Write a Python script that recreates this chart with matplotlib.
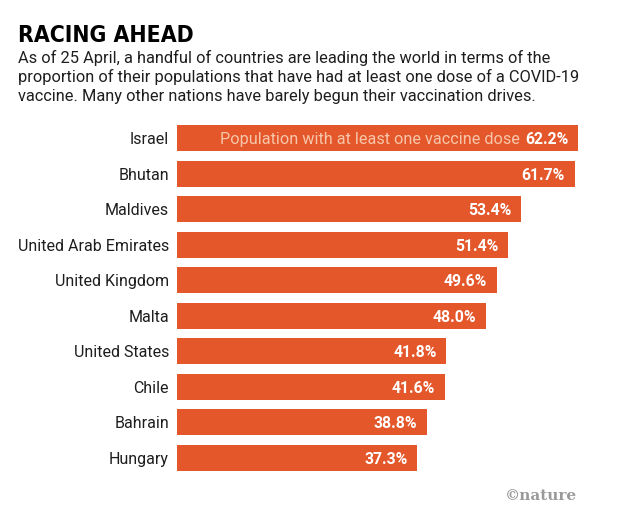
import matplotlib.pyplot as plt

countries = ["Israel", "Bhutan", "Maldives", "United Arab Emirates", "United Kingdom",
             "Malta", "United States", "Chile", "Bahrain", "Hungary"]
share = [62.2, 61.7, 53.4, 51.4, 49.6, 48.0, 41.8, 41.6, 38.8, 37.3]

subtitle = ["As of 25 April, a handful of countries are leading the world in terms of the",
            "proportion of their populations that have had at least one dose of a COVID-19",
            "vaccine. Many other nations have barely begun their vaccination drives."]

bar_col = "#E4572B"
W, H = 618, 519

fig = plt.figure(figsize=(W / 100, H / 100), dpi=100)
fig.patch.set_facecolor("white")

# bars run from x=177 to 578 px for the largest value, rows centred 138..458 px
left, right = 177, 578
top, bottom = 138 - 17.75, 458 + 17.75
ax = fig.add_axes([left / W, 1 - bottom / H, (right - left) / W, (bottom - top) / H])
ax.set_xlim(0, max(share))
ax.set_ylim(len(countries) - 0.5, -0.5)
ax.axis("off")

ypos = list(range(len(countries)))
ax.barh(ypos, share, height=0.73, color=bar_col, clip_on=False)

for y, name, v in zip(ypos, countries, share):
    ax.annotate(name, (0, y), xytext=(-8, 0), textcoords="offset pixels",
                ha="right", va="center_baseline", fontsize=11.5, color="#1e1e1e",
                family="Roboto")
    ax.annotate(f"{v:.1f}%", (v, y), xytext=(-10, 0), textcoords="offset pixels",
                ha="right", va="center_baseline", fontsize=11.3, color="white",
                fontweight="bold", family="Roboto")

# note inside the first bar, just left of its value
fig.canvas.draw()
first = ax.texts[1].get_window_extent()
xd = ax.transData.transform((share[0], 0))[0]
ax.annotate("Population with at least one vaccine dose", (share[0], 0),
            xytext=(first.x0 - 5 - xd, 0), textcoords="offset pixels",
            ha="right", va="center_baseline", fontsize=11.7, color="#F7C6AA",
            family="Roboto")

fig.text(18 / W, 1 - 42 / H, "RACING AHEAD", ha="left", va="baseline", fontsize=16.5,
         fontweight="bold", fontstretch="condensed", family="DejaVu Sans", color="black")
for i, line in enumerate(subtitle):
    fig.text(18 / W, 1 - (63 + 19 * i) / H, line, ha="left", va="baseline",
             fontsize=11.8, family="Roboto", color="#1e1e1e")
fig.text(577 / W, 1 - 496 / H, "\u00a9nature", ha="right", va="center", fontsize=11,
         family="DejaVu Serif", fontweight="bold", color="#9a9a9a")

fig.savefig("out.png", dpi=100, facecolor="white")
